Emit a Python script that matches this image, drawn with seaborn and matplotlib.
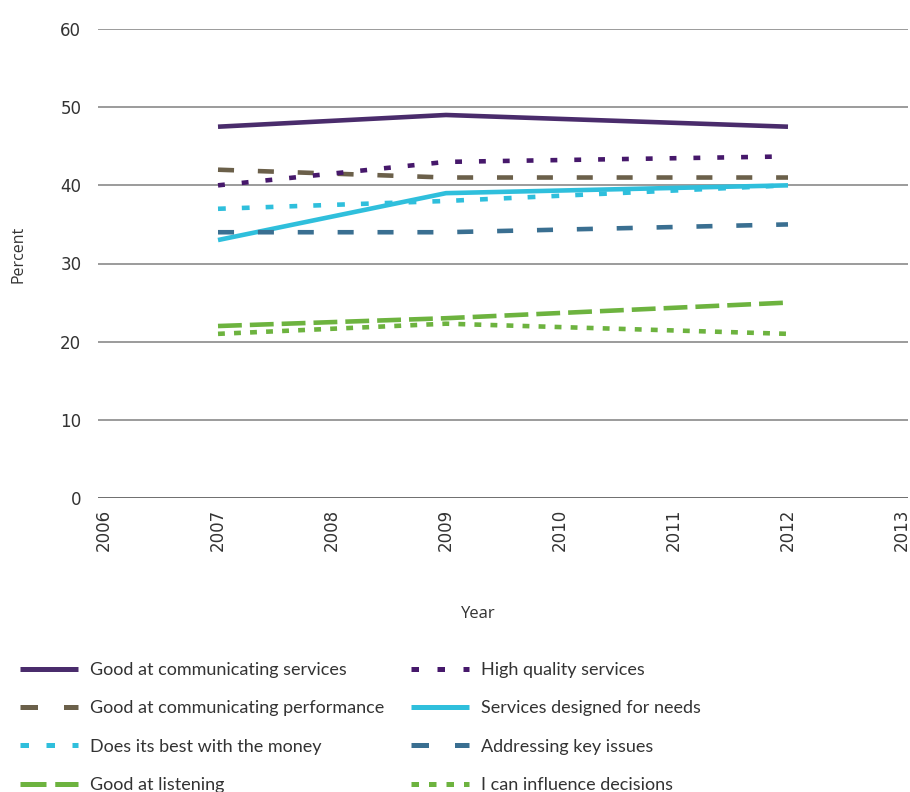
import matplotlib
matplotlib.use("Agg")
import matplotlib.pyplot as plt
import seaborn as sns
import pandas as pd

years = [2007, 2009, 2012]
series_names = [
    "Good at communicating services",
    "Good at communicating performance",
    "Does its best with the money",
    "Good at listening",
    "High quality services",
    "Services designed for needs",
    "Addressing key issues",
    "I can influence decisions",
]
good_comm_services = [47.5, 49, 47.5]
good_comm_performance = [42, 41, 41]
best_with_money = [37, 38, 40]
good_listening = [22, 23, 25]
high_quality = [40, 43, 43.7]
designed_for_needs = [33, 39, 40]
key_issues = [34, 34, 35]
influence_decisions = [21, 22.3, 21]
values = [good_comm_services, good_comm_performance, best_with_money, good_listening,
          high_quality, designed_for_needs, key_issues, influence_decisions]

colors = ["#4a2c6c", "#6b604a", "#2fbfdc", "#6db33f",
          "#46186b", "#2fbfdc", "#3a6f91", "#6db33f"]
dashes = [(), (3.5, 5.2), (1.7, 3.5), (5.2, 1.75),
          (1.5, 3.7), (), (3.5, 5.2), (1.5, 2.0)]

rows = []
for name, vals in zip(series_names, values):
    for y, v in zip(years, vals):
        rows.append({"Year": y, "Percent": v, "Series": name})
df = pd.DataFrame(rows)

sns.set_theme(style="white")
plt.rcParams["font.family"] = ["DejaVu Sans"]

fig = plt.figure(figsize=(9.1, 7.92), dpi=100)
ax = fig.add_axes([98 / 910, 1 - 498 / 792, 810 / 910, 469 / 792])

sns.lineplot(data=df, x="Year", y="Percent", hue="Series", style="Series",
             hue_order=series_names, style_order=series_names,
             palette=dict(zip(series_names, colors)),
             dashes=dict(zip(series_names, dashes)),
             linewidth=3.3, ax=ax, legend=False)
for line in ax.get_lines():
    line.set_solid_capstyle("butt")
    line.set_dash_capstyle("butt")

px_per_year = 114.0
ax.set_xlim(2006 - 6 / px_per_year, 2013 + 6 / px_per_year)
ax.set_ylim(0, 60)
ax.set_xticks(range(2006, 2014))
ax.set_yticks(range(0, 61, 10))
ax.tick_params(axis="both", length=0, labelsize=12, labelcolor="#333333")
ax.tick_params(axis="y", pad=12)
ax.tick_params(axis="x", pad=8)
plt.setp(ax.get_xticklabels(), rotation=90)
for s in ax.spines.values():
    s.set_visible(False)
for yv in range(0, 61, 10):
    ax.axhline(yv, color="#555555" if yv == 0 else "#8a8a8a", lw=1.2, zorder=0)
ax.grid(False)

ax.set_xlabel("Year", fontsize=12, color="#333333", family="Open Sans")
ax.set_ylabel("Percent", fontsize=11.5, color="#333333", family="Open Sans")
ax.xaxis.set_label_coords((478 - 98) / 810, -(606 - 498) / 469)
ax.yaxis.set_label_coords((27 - 98) / 810, (498 - 254) / 469)

handles = ax.get_lines()[:len(series_names)]
leg = fig.legend(handles, series_names, loc="upper left",
                 bbox_to_anchor=(13 / 910, 1 - 655 / 792), ncol=2,
                 frameon=False, prop={"family": "Lato", "size": 13},
                 handlelength=3.2, handletextpad=0.65, columnspacing=1.5,
                 labelspacing=1.23, borderaxespad=0)
for t in leg.get_texts():
    t.set_color("#333333")
for h in leg.get_lines():
    h.set_linewidth(3.6)

fig.savefig("out.png", dpi=100)
